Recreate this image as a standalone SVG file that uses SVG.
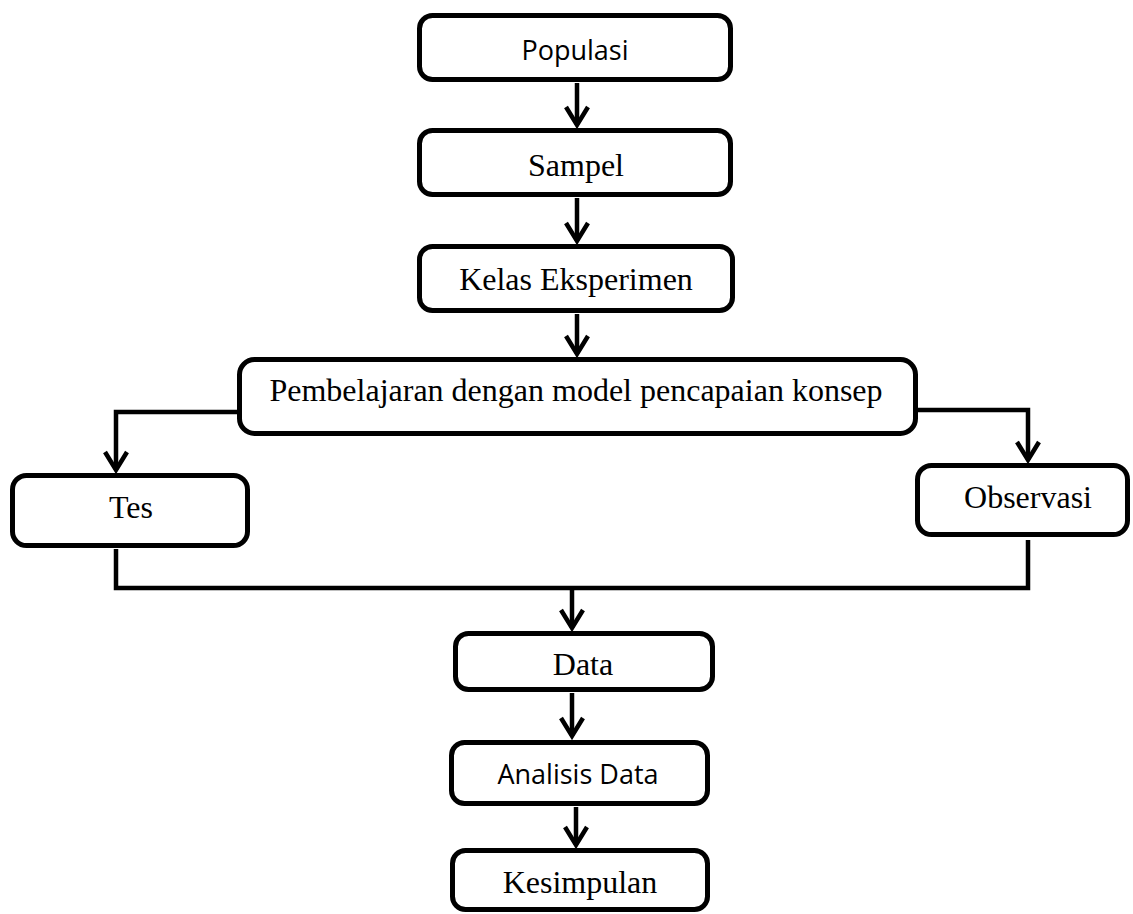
<svg xmlns="http://www.w3.org/2000/svg" width="1133" height="914" viewBox="0 0 1133 914">
  <style>
    .box { fill: #ffffff; stroke: #000000; stroke-width: 5; }
    .serif { font-family: "Liberation Serif", "Times New Roman", serif; font-size: 32px; fill: #000; text-anchor: middle; }
    .sans { font-family: "Open Sans", "Noto Sans", sans-serif; font-size: 27px; fill: #000; text-anchor: middle; }
    .conn { fill: none; stroke: #000000; stroke-width: 4.5; }
  </style>
  <defs>
    <marker id="arrow" markerUnits="userSpaceOnUse" markerWidth="30" markerHeight="30" viewBox="-22 -15 26 30" refX="0" refY="0" orient="auto">
      <path d="M-18,-11 L0,0 L-18,11" fill="none" stroke="#000" stroke-width="4.5" stroke-linejoin="miter"/>
    </marker>
  </defs>
  <rect width="1133" height="914" fill="#ffffff"/>

  <g id="connectors">
    <line class="conn" x1="577" y1="83" x2="577" y2="125" marker-end="url(#arrow)"/>
    <line class="conn" x1="577" y1="198" x2="577" y2="241" marker-end="url(#arrow)"/>
    <line class="conn" x1="577" y1="314" x2="577" y2="354" marker-end="url(#arrow)"/>
    <polyline class="conn" points="237,412 116,412 116,470" marker-end="url(#arrow)"/>
    <polyline class="conn" points="918,410 1028,410 1028,460" marker-end="url(#arrow)"/>
    <polyline class="conn" points="116,549 116,588 1028,588 1028,540"/>
    <line class="conn" x1="572" y1="588" x2="572" y2="628" marker-end="url(#arrow)"/>
    <line class="conn" x1="572" y1="693" x2="572" y2="736" marker-end="url(#arrow)"/>
    <line class="conn" x1="576" y1="807" x2="576" y2="845" marker-end="url(#arrow)"/>
  </g>

  <g id="populasi">
    <rect class="box" x="419.5" y="15.5" width="311" height="64" rx="13"/>
    <text class="sans" x="575" y="60">Populasi</text>
  </g>
  <g id="sampel">
    <rect class="box" x="419.5" y="130.5" width="311" height="64" rx="13"/>
    <text class="serif" x="576" y="176">Sampel</text>
  </g>
  <g id="kelas-eksperimen">
    <rect class="box" x="419.5" y="246.5" width="313" height="64" rx="13"/>
    <text class="serif" x="576" y="290">Kelas Eksperimen</text>
  </g>
  <g id="pembelajaran">
    <rect class="box" x="239.5" y="359.5" width="676" height="74" rx="15"/>
    <text class="serif" x="576" y="401">Pembelajaran dengan model pencapaian konsep</text>
  </g>
  <g id="tes">
    <rect class="box" x="12.5" y="475.5" width="235" height="70" rx="14"/>
    <text class="serif" x="131" y="518">Tes</text>
  </g>
  <g id="observasi">
    <rect class="box" x="917.5" y="465.5" width="210" height="69" rx="14"/>
    <text class="serif" x="1028" y="508">Observasi</text>
  </g>
  <g id="data">
    <rect class="box" x="455.5" y="633.5" width="257" height="56" rx="13"/>
    <text class="serif" x="583" y="675">Data</text>
  </g>
  <g id="analisis-data">
    <rect class="box" x="451.5" y="742.5" width="256" height="61" rx="13"/>
    <text class="sans" x="578" y="784">Analisis Data</text>
  </g>
  <g id="kesimpulan">
    <rect class="box" x="452.5" y="850.5" width="255" height="59" rx="13"/>
    <text class="serif" x="580" y="893">Kesimpulan</text>
  </g>
</svg>
